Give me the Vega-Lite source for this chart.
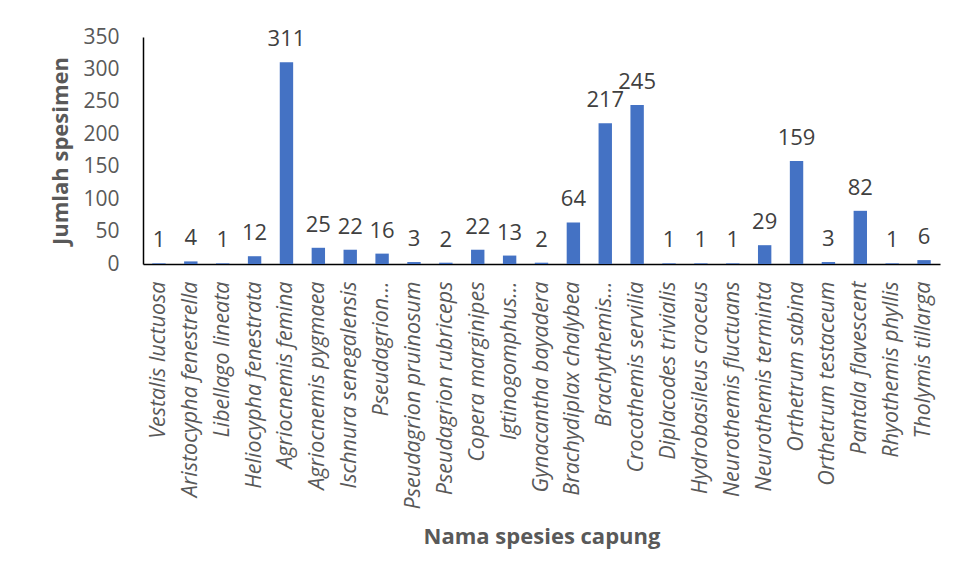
{
  "$schema": "https://vega.github.io/schema/vega-lite/v6.json",
  "width": 797,
  "height": 227,
  "autosize": {"type": "none"},
  "padding": {"left": 143, "top": 37, "right": 17, "bottom": 313},
  "background": "white",
  "config": {
    "view": {"stroke": null},
    "font": "Open Sans"
  },
  "data": {
    "values": [
      {"species": "Vestalis luctuosa", "count": 1},
      {"species": "Aristocypha fenestrella", "count": 4},
      {"species": "Libellago lineata", "count": 1},
      {"species": "Heliocypha fenestrata", "count": 12},
      {"species": "Agriocnemis femina", "count": 311},
      {"species": "Agriocnemis pygmaea", "count": 25},
      {"species": "Ischnura senegalensis", "count": 22},
      {"species": "Pseudagrion…", "count": 16},
      {"species": "Pseudagrion pruinosum", "count": 3},
      {"species": "Pseudagrion rubriceps", "count": 2},
      {"species": "Copera marginipes", "count": 22},
      {"species": "Igtinogomphus…", "count": 13},
      {"species": "Gynacantha bayadera", "count": 2},
      {"species": "Brachydiplax chalybea", "count": 64},
      {"species": "Brachythemis…", "count": 217},
      {"species": "Crocothemis servilia", "count": 245},
      {"species": "Diplacodes trivialis", "count": 1},
      {"species": "Hydrobasileus croceus", "count": 1},
      {"species": "Neurothemis fluctuans", "count": 1},
      {"species": "Neurothemis terminta", "count": 29},
      {"species": "Orthetrum sabina", "count": 159},
      {"species": "Orthetrum testaceum", "count": 3},
      {"species": "Pantala flavescent", "count": 82},
      {"species": "Rhyothemis phyllis", "count": 1},
      {"species": "Tholymis tillarga", "count": 6}
    ]
  },
  "encoding": {
    "x": {
      "field": "species",
      "type": "nominal",
      "sort": null,
      "scale": {"paddingInner": 0.58, "paddingOuter": 0.29},
      "axis": {
        "title": "Nama spesies capung",
        "titleFontSize": 22,
        "titleFontWeight": "bold",
        "titleColor": "#595959",
        "titlePadding": 62,
        "labelAngle": -90,
        "labelAlign": "right",
        "labelBaseline": "middle",
        "labelFontSize": 21.5,
        "labelFontStyle": "italic",
        "labelColor": "#595959",
        "labelPadding": 17,
        "labelLimit": 400,
        "ticks": false,
        "domainColor": "black",
        "domainWidth": 1.5
      }
    },
    "y": {
      "field": "count",
      "type": "quantitative",
      "scale": {"domain": [0, 350]},
      "axis": {
        "title": "Jumlah spesimen",
        "titleFontSize": 22,
        "titleFontWeight": "bold",
        "titleColor": "#595959",
        "titlePadding": 10,
        "values": [0, 50, 100, 150, 200, 250, 300, 350],
        "labelFontSize": 21,
        "labelColor": "#595959",
        "labelPadding": 24,
        "ticks": false,
        "grid": false,
        "domainColor": "black",
        "domainWidth": 1.5
      }
    }
  },
  "layer": [
    {"mark": {"type": "bar", "color": "#4472C4"}},
    {
      "mark": {"type": "text", "baseline": "bottom", "dy": -11, "fontSize": 22, "color": "#404040"},
      "encoding": {"text": {"field": "count", "type": "quantitative"}}
    }
  ]
}
